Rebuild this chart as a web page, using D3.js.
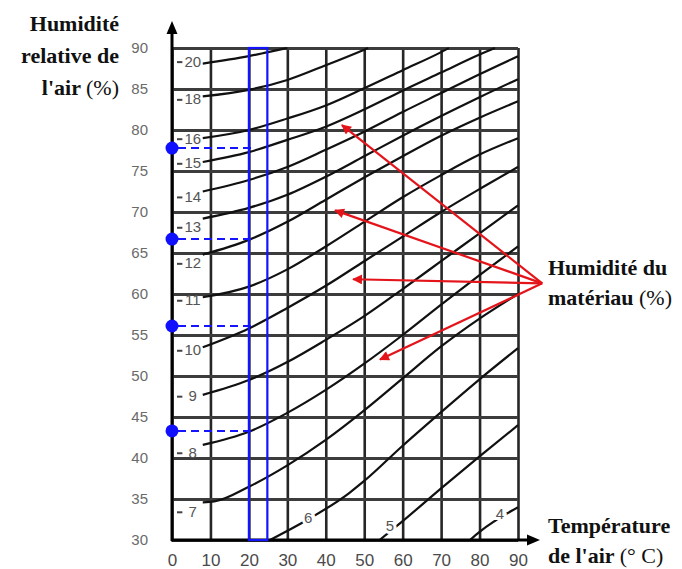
<!DOCTYPE html>
<html><head><meta charset="utf-8">
<script src="https://cdn.jsdelivr.net/npm/d3@7"></script>
<style>body{margin:0;background:#fff}svg{display:block}</style>
</head><body><svg id="c" width="682" height="569"></svg>
<script>
// ---- data ----
const xTicks = [0,10,20,30,40,50,60,70,80,90];
const yTicks = [30,35,40,45,50,55,60,65,70,75,80,85,90];
const curve20 = [[8,88.1],[20,89.0],[25,89.5],[30,90]];
const curve18 = [[8,84.1],[20,84.9],[30,86.1],[40,87.9],[50,89.8],[51,90]];
const curve16 = [[8,79.0],[20,80.0],[30,81.4],[40,83.0],[50,85.1],[60,87.3],[70,89.5],[72,90]];
const curve15 = [[8,76.1],[20,77.3],[30,78.8],[40,80.4],[50,82.5],[60,84.8],[70,87.0],[80,89.2],[84,90]];
const curve14 = [[8,72.5],[20,73.9],[30,75.5],[40,77.6],[50,79.8],[60,82.2],[70,84.5],[80,86.8],[90,89.0]];
const curve13 = [[8,69.2],[20,70.5],[30,72.1],[40,74.3],[50,76.8],[60,79.3],[70,81.7],[80,84.0],[90,86.2]];
const curve12 = [[8,64.8],[20,66.6],[30,68.8],[40,71.5],[50,74.2],[60,76.8],[70,79.3],[80,81.5],[90,83.5]];
const curve11 = [[8,59.6],[20,60.9],[30,63.0],[40,65.8],[50,68.8],[60,71.8],[70,74.5],[80,77.0],[90,79.0]];
const curve10 = [[8,53.5],[20,55.8],[30,58.3],[40,61.0],[50,64.0],[60,67.0],[70,70.0],[80,72.8],[90,75.5]];
const curve9  = [[8,47.7],[20,49.5],[30,51.7],[40,54.4],[50,57.3],[60,60.6],[70,64.0],[80,67.4],[90,70.8]];
const curve8  = [[8,41.6],[20,43.2],[30,45.5],[40,48.3],[50,51.5],[60,55.0],[70,58.7],[80,62.3],[90,65.8]];
const curve7  = [[8,34.6],[11,34.7],[20,36.5],[30,39.1],[40,42.2],[50,45.8],[60,49.7],[70,53.6],[80,57.0],[90,60.0]];
const curve6  = [[25.5,30],[35,32.4],[46,35.7],[50,37.2],[60,41.5],[70,45.6],[80,49.6],[90,53.4]];
const curve5  = [[54,30],[60,32.3],[70,36.3],[80,40.2],[90,44.0]];
const curve4  = [[77.5,30],[80,31.0],[90,34.0]];
const curves = [curve20,curve18,curve16,curve15,curve14,curve13,curve12,curve11,curve10,curve9,curve8,curve7,curve6,curve5,curve4];

const leftLabels   = ["20","18","16","15","14","13","12","11","10","9","8","7"];
const leftLabelRH  = [88.4,83.8,79.0,76.0,71.9,68.2,63.8,59.3,53.2,47.6,40.7,33.5];
const inlineLabels = ["6","5","4"];
const inlineLabelT = [35.4,56.7,85.3];
const inlineLabelRH= [32.7,31.7,33.2];

const sampleRH = [77.8,66.7,56.1,43.3];
const bandT = [20,24.8];
const arrowFrom = [96.3,61.3];
const arrowTipT  = [44.2,42.4,47.1,54.1];
const arrowTipRH = [80.6,70.2,61.8,52.0];

// ---- drawing ----
const svg = d3.select("#c");
const x = d3.scaleLinear().domain([0,90]).range([172,518]);
const y = d3.scaleLinear().domain([30,90]).range([540,48]);

const defs = svg.append("defs");
defs.append("marker").attr("id","ah").attr("viewBox","0 0 10 10").attr("refX",9).attr("refY",5)
  .attr("markerWidth",5.5).attr("markerHeight",4.5).attr("orient","auto").attr("markerUnits","strokeWidth")
  .append("path").attr("d","M0,0L10,5L0,10z").attr("fill","#e4141b");

// grid via axes
const gx = svg.append("g").attr("transform",`translate(0,${y(30)})`)
  .call(d3.axisBottom(x).tickValues(xTicks).tickSize(-(y(30)-y(90))).tickPadding(14).tickFormat(d3.format("d")));
gx.select(".domain").remove();
gx.selectAll(".tick line").attr("stroke","#262626").attr("stroke-width",2.6);
gx.selectAll(".tick text").attr("font-family","'Liberation Sans',Arial,sans-serif").attr("font-size",17).attr("fill","#4a4a4a");

const gy = svg.append("g").attr("transform",`translate(${x(0)},0)`)
  .call(d3.axisLeft(y).tickValues(yTicks).tickSize(-(x(90)-x(0))).tickPadding(24).tickFormat(d3.format("d")));
gy.select(".domain").remove();
gy.selectAll(".tick line").attr("stroke","#3c3c3c").attr("stroke-width",2.8);
gy.selectAll(".tick text").attr("font-family","'Liberation Sans',Arial,sans-serif").attr("font-size",15).attr("fill","#6a6a6a");

// curves
const line = d3.line().x(d=>x(d[0])).y(d=>y(d[1])).curve(d3.curveMonotoneX);
svg.append("g").selectAll("path").data(curves).join("path")
  .attr("d",line).attr("fill","none").attr("stroke","#111").attr("stroke-width",2.2);

// left curve labels
const gl = svg.append("g").attr("font-family","'Liberation Sans',Arial,sans-serif").attr("font-size",15).attr("fill","#555");
gl.selectAll("line").data(leftLabelRH).join("line")
  .attr("x1",x(1.3)).attr("x2",x(2.7)).attr("y1",d=>y(d)+1).attr("y2",d=>y(d)+1)
  .attr("stroke","#444").attr("stroke-width",2);
gl.selectAll("text").data(leftLabels).join("text")
  .attr("x",x(5.4)).attr("y",(d,i)=>y(leftLabelRH[i])).attr("dy","0.36em").attr("text-anchor","middle").text(d=>d);
// inline labels
svg.append("g").selectAll("text").data(inlineLabels).join("text")
  .attr("x",(d,i)=>x(inlineLabelT[i])).attr("y",(d,i)=>y(inlineLabelRH[i])).attr("dy","0.36em")
  .attr("text-anchor","middle").attr("font-family","'Liberation Sans',Arial,sans-serif").attr("font-size",15)
  .attr("fill","#555").attr("stroke","#fff").attr("stroke-width",6).attr("paint-order","stroke").text(d=>d);

// axes with arrows
svg.append("line").attr("x1",x(0)).attr("x2",x(0)).attr("y1",y(30)+1).attr("y2",30).attr("stroke","#000").attr("stroke-width",3);
svg.append("path").attr("d",`M${x(0)-5.5},34L${x(0)},21L${x(0)+5.5},34Z`).attr("fill","#000");
svg.append("line").attr("x1",x(0)-1).attr("x2",530).attr("y1",y(30)).attr("y2",y(30)).attr("stroke","#000").attr("stroke-width",3);
svg.append("path").attr("d",`M527,${y(30)-5.5}L540,${y(30)}L527,${y(30)+5.5}Z`).attr("fill","#000");

// blue band
svg.append("rect").attr("x",x(bandT[0])).attr("y",y(90)).attr("width",x(bandT[1])-x(bandT[0])).attr("height",y(30)-y(90))
  .attr("fill","none").attr("stroke","#1414ff").attr("stroke-width",2.2);
// blue dashed lines and dots
svg.append("g").selectAll("line").data(sampleRH).join("line")
  .attr("x1",x(0)+6).attr("x2",x(bandT[0])+3).attr("y1",d=>y(d)).attr("y2",d=>y(d))
  .attr("stroke","#1414ff").attr("stroke-width",2).attr("stroke-dasharray","8,5");
svg.append("g").selectAll("circle").data(sampleRH).join("circle")
  .attr("cx",x(0)).attr("cy",d=>y(d)).attr("r",6.5).attr("fill","#1010ff");

// red arrows
svg.append("g").selectAll("line").data(arrowTipT).join("line")
  .attr("x1",x(arrowFrom[0])).attr("y1",y(arrowFrom[1]))
  .attr("x2",d=>x(d)).attr("y2",(d,i)=>y(arrowTipRH[i]))
  .attr("stroke","#e4141b").attr("stroke-width",2.2).attr("marker-end","url(#ah)");

// titles
const serif = "'Liberation Serif','Times New Roman',serif";
function title(lines, xPos, y0, step, anchor){
  const t = svg.append("text").attr("font-family",serif).attr("font-size",22).attr("fill","#111").attr("text-anchor",anchor);
  lines.forEach((parts,i)=>{
    const row = t.append("tspan").attr("x",xPos).attr("y",y0+i*step);
    parts.forEach(p=>row.append("tspan").attr("font-weight",p[1]?"bold":"normal").text(p[0]));
  });
}
title([[["Humidité",1]],[["relative de",1]],[["l'air ",1],["(%)",0]]],119,31,32,"end");
title([[["Température",1]],[["de l'air ",1],["(° C)",0]]],548,533,30,"start");
title([[["Humidité du",1]],[["matériau ",1],["(%)",0]]],548,275,30,"start");
</script></body></html>
